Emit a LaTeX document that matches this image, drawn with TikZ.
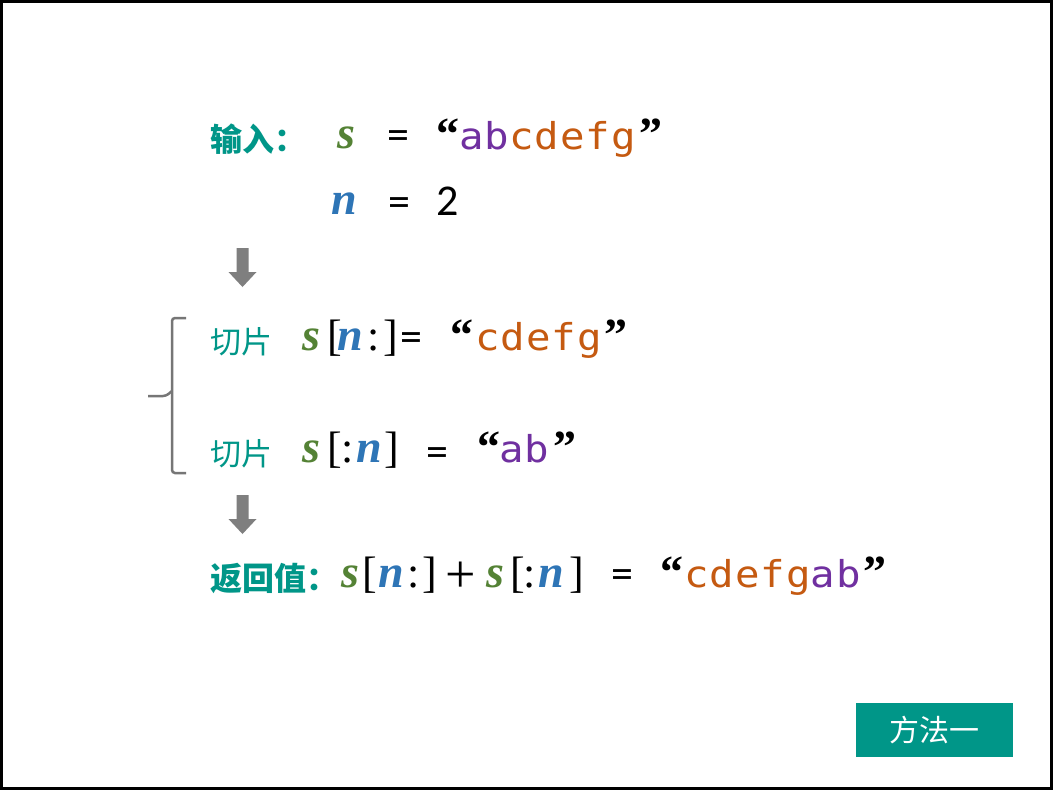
\documentclass[tikz,border=0pt]{standalone}
\usepackage{fontspec}
\setmainfont{Liberation Serif}
\newfontfamily\cjkfont{Noto Sans CJK SC}
\newfontfamily\codefont[FakeStretch=1.1,LetterSpace=3]{DejaVu Sans Mono}
\newfontfamily\eqfont{Carlito}
\definecolor{tealc}{HTML}{009688}
\definecolor{sgreen}{HTML}{548235}
\definecolor{nblue}{HTML}{2E75B6}
\definecolor{strpurple}{HTML}{7030A0}
\definecolor{strorange}{HTML}{C55A11}
\definecolor{arrowgray}{HTML}{7F7F7F}
\definecolor{bracegray}{HTML}{767676}
\tikzset{
  tx/.style={inner sep=0pt, outer sep=0pt, anchor=base west},
  cjkb/.style={tx, text=tealc, font=\cjkfont\bfseries\fontsize{32}{36}\selectfont},
  cjkn/.style={tx, text=tealc, font=\cjkfont\fontsize{31}{36}\selectfont},
  svar/.style={tx, text=sgreen, font=\bfseries\itshape\fontsize{46}{50}\selectfont},
  nvar/.style={tx, text=nblue, font=\bfseries\itshape\fontsize{46}{50}\selectfont},
  brk/.style={tx, text=black, font=\fontsize{44}{48}\selectfont},
  plusc/.style={tx, text=black, font=\fontsize{54}{58}\selectfont},
  eqs/.style={tx, text=black, font=\eqfont\fontsize{44}{48}\selectfont},
  quo/.style={tx, text=black, font=\bfseries\fontsize{46}{50}\selectfont},
  code/.style={tx, font=\codefont\fontsize{37}{42}\selectfont},
  garrow/.style={fill=arrowgray, draw=none},
}
\newcommand{\downarrowshape}[2]{%
  \fill[garrow] (#1-6,-#2) -- (#1+6,-#2) -- (#1+6,-#2-24) -- (#1+14,-#2-24)
    -- (#1,-#2-39) -- (#1-14,-#2-24) -- (#1-6,-#2-24) -- cycle;}
\begin{document}
\begin{tikzpicture}[x=1pt,y=1pt]
\useasboundingbox (0,0) rectangle (1053,-790);
\fill[white] (0,0) rectangle (1053,-790);
\draw[line width=3pt] (1.5,-1.5) rectangle (1051.5,-788.5);

% line 1
\node[cjkb] (inlab) at (210,-151) {输入：};
\node[svar] (s1) at (337,-148) {s};
\node[eqs] (eq1) at (387,-149) {=};
\node[quo] (q1a) at (436,-149) {“};
\node[code] (str1) at (459,-149) {\textcolor{strpurple}{ab}\textcolor{strorange}{cdefg}};
\node[quo] (q1b) at (639,-149) {”};

% line 2
\node[nvar] (n2) at (331,-214) {n};
\node[eqs] (eq2) at (388,-216) {=};
\node[eqs] (two) at (436,-215) {2};

% arrow 1
\downarrowshape{242.5}{248}

% brace
\draw[bracegray, line width=2.5pt, rounded corners=3pt]
  (186,-318) -- (172,-318) -- (172,-473) -- (186,-473);
\draw[bracegray, line width=2.5pt, rounded corners=3pt] (148,-396) -- (166,-396) -- (172,-391);

% line 3
\node[cjkn] (cut1) at (210,-353) {切片};
\node[svar] (s3) at (302,-350) {s};
\node[brk] (lb3) at (327,-350) {[};
\node[nvar] (n3) at (337,-350) {n};
\node[brk] (col3) at (367,-350) {:};
\node[brk] (rb3) at (383,-350) {]};
\node[eqs] (eq3) at (400,-351) {=};
\node[quo] (q3a) at (450,-350) {“};
\node[code] (str3) at (475,-350) {\textcolor{strorange}{cdefg}};
\node[quo] (q3b) at (604,-350) {”};

% line 4
\node[cjkn] (cut2) at (210,-465) {切片};
\node[svar] (s4) at (302,-462) {s};
\node[brk] (lb4) at (327,-462) {[};
\node[brk] (col4) at (341,-462) {:};
\node[nvar] (n4) at (356,-462) {n};
\node[brk] (rb4) at (384,-462) {]};
\node[eqs] (eq4) at (426,-466) {=};
\node[quo] (q4a) at (477,-462) {“};
\node[code] (str4) at (499,-462) {\textcolor{strpurple}{ab}};
\node[quo] (q4b) at (553,-462) {”};

% arrow 2
\downarrowshape{242.5}{495}

% line 5
\node[cjkb] (ret) at (210,-590) {返回值：};
\node[svar] (s5a) at (341,-587) {s};
\node[brk] (lb5a) at (362,-587) {[};
\node[nvar] (n5a) at (378,-587) {n};
\node[brk] (col5a) at (407,-587) {:};
\node[brk] (rb5a) at (422,-587) {]};
\node[plusc] (plus) at (445,-592) {+};
\node[svar] (s5b) at (486,-587) {s};
\node[brk] (lb5b) at (510,-587) {[};
\node[brk] (col5b) at (523,-587) {:};
\node[nvar] (n5b) at (538,-587) {n};
\node[brk] (rb5b) at (569,-587) {]};
\node[eqs] (eq5) at (611,-588) {=};
\node[quo] (q5a) at (660,-587) {“};
\node[code] (str5) at (684,-587) {\textcolor{strorange}{cdefg}\textcolor{strpurple}{ab}};
\node[quo] (q5b) at (863,-587) {”};

% button
\node[fill=tealc, text=white, minimum width=157pt, minimum height=54pt, inner sep=0pt,
  font=\cjkfont\fontsize{30}{34}\selectfont] (btn) at (934.5,-730) {方法一};
\end{tikzpicture}
\end{document}
